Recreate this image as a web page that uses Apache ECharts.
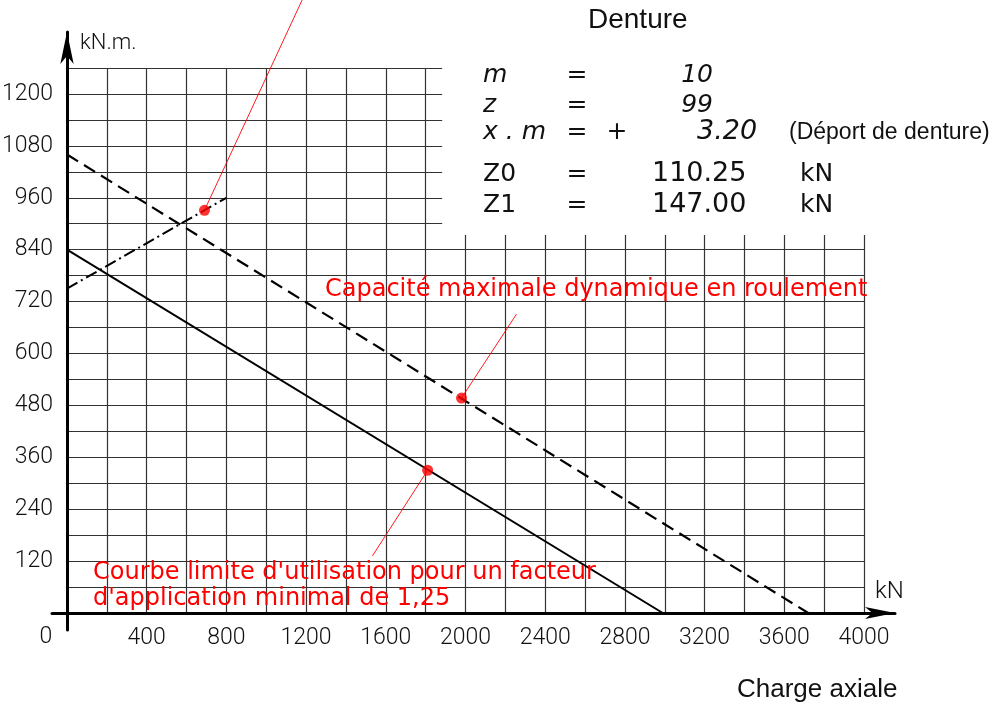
<!DOCTYPE html>
<html>
<head>
<meta charset="utf-8">
<script src="https://cdn.jsdelivr.net/npm/echarts@6/dist/echarts.min.js"></script>
<style>
  html, body { margin: 0; padding: 0; background: #fff; }
  #chart { width: 1001px; height: 704px; }
</style>
</head>
<body>
<div id="chart"></div>
<script>
// values (kN, kN.m)
var solidLine = [[0, 840], [2990, 0]];
var dashedLine = [[0, 1060], [3720, 0]];
var dashDotLine = [[0, 750], [800, 960]];
var redDots = [[690, 931], [1980, 497], [1810, 330]];
var leaderTop = [[690, 931], [1180, 1417]];
var leaderDashed = [[1980, 497], [2256, 691]];
var leaderSolid = [[1810, 330], [1533, 132]];
// blank corner of the grid, where the gear data is written
var blankCorner = [[1883, 874], [4060, 1265]];

var xMax = 4000, xStep = 200, xLabelStep = 400;
var yMax = 1260, yStep = 60, yLabelStep = 120, yLabelMax = 1200;

var tableRows = [
    { label: 'm', eq: '=', sign: '', value: '10', unit: '', italic: true },
    { label: 'z', eq: '=', sign: '', value: '99', unit: '', italic: true },
    { label: 'x . m', eq: '=', sign: '+', value: '3.20', unit: '', italic: true },
    { label: 'Z0', eq: '=', sign: '', value: '110.25', unit: 'kN', italic: false },
    { label: 'Z1', eq: '=', sign: '', value: '147.00', unit: 'kN', italic: false }
];

var tickFont = 'Roboto, "Liberation Sans", sans-serif';
var red = '#ff0000';
var ink = '#111';
var gridColor = '#333';

var chart = echarts.init(document.getElementById('chart'));

// rows of the data block at the top right
var rowY = [75, 105, 132, 174, 205];
var tableGraphics = [];
tableRows.forEach(function (row, i) {
    var fontStyle = row.italic ? 'italic' : 'normal';
    var base = { fontFamily: '"DejaVu Sans", sans-serif', fontSize: 25, fontStyle: fontStyle, fill: ink, verticalAlign: 'middle' };
    tableGraphics.push({ type: 'text', x: 483, y: rowY[i], z: 100, style: Object.assign({ text: row.label, align: 'left' }, base) });
    tableGraphics.push({ type: 'text', x: 577, y: rowY[i], z: 100, style: Object.assign({ text: row.eq, align: 'center' }, base, { fontStyle: 'normal' }) });
    if (row.sign) {
        tableGraphics.push({ type: 'text', x: 617, y: rowY[i], z: 100, style: Object.assign({ text: row.sign, align: 'center' }, base, { fontStyle: 'normal' }) });
    }
    if (row.value.indexOf('.') < 0) {
        tableGraphics.push({ type: 'text', x: 713, y: rowY[i], z: 100, style: Object.assign({ text: row.value, align: 'right' }, base) });
    } else if (row.italic) {
        tableGraphics.push({ type: 'text', x: 697, y: rowY[i], z: 100, style: Object.assign({ text: row.value, align: 'left' }, base, { fontSize: 27 }) });
    } else {
        tableGraphics.push({ type: 'text', x: 652, y: rowY[i], z: 100, style: Object.assign({ text: row.value, align: 'left' }, base, { fontSize: 27 }) });
    }
    if (row.unit) {
        tableGraphics.push({ type: 'text', x: 800, y: rowY[i], z: 100, style: Object.assign({ text: row.unit, align: 'left' }, base) });
    }
});

var option = {
    backgroundColor: '#fff',
    animation: false,
    grid: [
        // the squared paper
        { left: 67, right: 137, top: 68, bottom: 91, containLabel: false, outerBoundsMode: 'none' },
        // only for the two arrowed axes, which run past the paper
        { left: 52, right: 106, top: 32, bottom: 74, containLabel: false, outerBoundsMode: 'none' }
    ],
    xAxis: [
        {
            type: 'value',
            gridIndex: 0,
            min: 0,
            max: xMax,
            interval: xStep,
            axisLine: { show: false },
            axisTick: { show: false },
            axisLabel: {
                margin: 14,
                color: ink,
                fontFamily: tickFont,
                fontWeight: 300,
                fontSize: 23,
                formatter: function (v) {
                    return (v > 0 && v % xLabelStep === 0) ? String(v) : '';
                }
            },
            splitLine: { show: true, lineStyle: { color: gridColor, width: 1.2 } }
        },
        {
            type: 'value',
            gridIndex: 1,
            min: -75.3,
            max: 4155.6,
            axisLine: {
                show: true,
                onZero: true,
                symbol: ['none', 'arrow'],
                symbolSize: [9, 30],
                lineStyle: { color: '#000', width: 3 }
            },
            axisTick: { show: false },
            axisLabel: { show: false },
            splitLine: { show: false }
        }
    ],
    yAxis: [
        {
            type: 'value',
            gridIndex: 0,
            min: 0,
            max: yMax,
            interval: yStep,
            axisLine: { show: false },
            axisTick: { show: false },
            axisLabel: {
                margin: 14,
                color: ink,
                fontFamily: tickFont,
                fontWeight: 300,
                fontSize: 23,
                formatter: function (v) {
                    return (v > 0 && v <= yLabelMax && v % yLabelStep === 0) ? String(v) : '';
                }
            },
            splitLine: { show: true, lineStyle: { color: gridColor, width: 1.2 } }
        },
        {
            type: 'value',
            gridIndex: 1,
            min: -39.3,
            max: 1343.2,
            axisLine: {
                show: true,
                onZero: true,
                symbol: ['none', 'arrow'],
                symbolSize: [10, 32],
                lineStyle: { color: '#000', width: 3 }
            },
            axisTick: { show: false },
            axisLabel: { show: false },
            splitLine: { show: false }
        }
    ],
    series: [
        {
            name: 'Courbe limite',
            type: 'line',
            data: solidLine,
            showSymbol: false,
            lineStyle: { color: '#000', width: 2 }
        },
        {
            name: 'Capacité dynamique',
            type: 'line',
            data: dashedLine,
            showSymbol: false,
            lineStyle: { color: '#000', width: 2.2, type: [13, 7] }
        },
        {
            name: 'Mixte',
            type: 'line',
            data: dashDotLine,
            showSymbol: false,
            lineStyle: { color: '#000', width: 2, type: [12, 4, 2, 4] }
        },
        {
            type: 'line',
            data: leaderTop,
            showSymbol: false,
            clip: false,
            lineStyle: { color: red, width: 0.9 }
        },
        {
            type: 'line',
            data: leaderDashed,
            showSymbol: false,
            lineStyle: { color: red, width: 0.9 }
        },
        {
            type: 'line',
            data: leaderSolid,
            showSymbol: false,
            lineStyle: { color: red, width: 0.9 }
        },
        {
            type: 'scatter',
            data: redDots,
            symbolSize: 11,
            itemStyle: { color: red },
            z: 5
        }
    ],
    graphic: [
        { type: 'text', x: 588, y: 20, z: 100, style: { text: 'Denture', fontFamily: '"Liberation Sans", Arial, sans-serif', fontSize: 28, fill: ink, align: 'left', verticalAlign: 'middle' } },
        { type: 'text', x: 789, y: 133, z: 100, style: { text: '(Déport de denture)', fontFamily: '"Liberation Sans", Arial, sans-serif', fontSize: 23, fill: ink, align: 'left', verticalAlign: 'middle' } },
        { type: 'text', x: 737, y: 690, z: 100, style: { text: 'Charge axiale', fontFamily: '"Liberation Sans", Arial, sans-serif', fontSize: 26, fill: ink, align: 'left', verticalAlign: 'middle' } },
        { type: 'text', x: 80, y: 43, z: 100, style: { text: 'kN.m.', fontFamily: tickFont, fontWeight: 300, fontSize: 22, fill: ink, align: 'left', verticalAlign: 'middle' } },
        { type: 'text', x: 875, y: 592, z: 100, style: { text: 'kN', fontFamily: tickFont, fontWeight: 300, fontSize: 24, fill: ink, align: 'left', verticalAlign: 'middle' } },
        { type: 'text', x: 46, y: 637, z: 100, style: { text: '0', fontFamily: tickFont, fontWeight: 300, fontSize: 23, fill: ink, align: 'center', verticalAlign: 'middle' } },
        { type: 'text', x: 325, y: 290, z: 100, style: { text: 'Capacité maximale dynamique en roulement', fontFamily: '"DejaVu Sans", sans-serif', fontSize: 24, fill: red, align: 'left', verticalAlign: 'middle' } },
        { type: 'text', x: 93, y: 573, z: 100, style: { text: "Courbe limite d'utilisation pour un facteur", fontFamily: '"DejaVu Sans", sans-serif', fontSize: 24, fill: red, align: 'left', verticalAlign: 'middle' } },
        { type: 'text', x: 93, y: 599, z: 100, style: { text: "d'application minimal de 1,25", fontFamily: '"DejaVu Sans", sans-serif', fontSize: 24, fill: red, align: 'left', verticalAlign: 'middle' } }
    ].concat(tableGraphics)
};

chart.setOption(option);

// white out the corner of the squared paper, placed through the axes
var p0 = chart.convertToPixel({ gridIndex: 0 }, blankCorner[0]);
var p1 = chart.convertToPixel({ gridIndex: 0 }, blankCorner[1]);
chart.setOption({
    graphic: [{
        type: 'rect',
        id: 'blankCorner',
        z: 1,
        silent: true,
        shape: {
            x: Math.min(p0[0], p1[0]),
            y: Math.min(p0[1], p1[1]),
            width: Math.abs(p1[0] - p0[0]),
            height: Math.abs(p1[1] - p0[1])
        },
        style: { fill: '#fff' }
    }]
});
</script>
</body>
</html>
